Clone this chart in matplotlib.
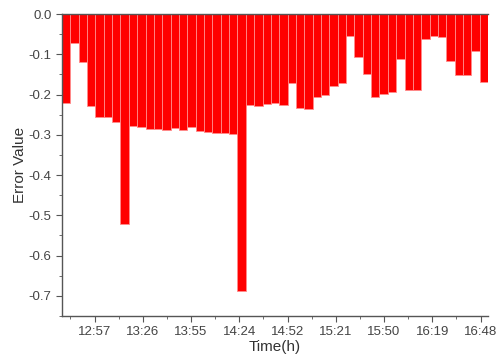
import matplotlib
matplotlib.use('Agg')
import matplotlib.pyplot as plt

plt.rcParams['font.family'] = ['Liberation Sans', 'DejaVu Sans']

# minutes after 12:00, one bar every 5 min (12:40 .. 16:50)
minutes = [40 + 5 * i for i in range(51)]
errors = [-0.222, -0.071, -0.120, -0.228, -0.256, -0.256, -0.268, -0.522, -0.279, -0.281,
          -0.285, -0.286, -0.287, -0.284, -0.287, -0.281, -0.291, -0.292, -0.296, -0.296,
          -0.297, -0.687, -0.227, -0.229, -0.223, -0.221, -0.225, -0.171, -0.233, -0.237,
          -0.207, -0.200, -0.178, -0.171, -0.055, -0.107, -0.148, -0.205, -0.199, -0.194,
          -0.112, -0.189, -0.189, -0.063, -0.054, -0.058, -0.117, -0.151, -0.151, -0.091,
          -0.170]

tick_labels = ['12:57', '13:26', '13:55', '14:24', '14:52', '15:21', '15:50', '16:19', '16:48']
tick_pos = [57 + i * 28.875 for i in range(len(tick_labels))]
y_ticks = [0.0, -0.1, -0.2, -0.3, -0.4, -0.5, -0.6, -0.7]
y_labels = ['0.0', '-0.1', '-0.2', '-0.3', '-0.4', '-0.5', '-0.6', '-0.7']

fig = plt.figure(figsize=(4.96, 3.64), dpi=100)
ax = fig.add_axes([0.125, 0.132, 0.859, 0.8295])

ax.bar(minutes, errors, width=5, color='#ff0000', edgecolor='#ff8c8c', linewidth=0.6)

ax.set_xlim(37.5, 292.5)
ax.set_ylim(-0.75, 0)
ax.set_xticks(tick_pos)
ax.set_xticklabels(tick_labels)
ax.set_xticks([p - 14.4375 for p in tick_pos], minor=True)
ax.set_yticks(y_ticks)
ax.set_yticklabels(y_labels)
ax.set_yticks([-0.05 - 0.1 * i for i in range(8)], minor=True)

grey = '#555555'
for s in ['left', 'bottom', 'top']:
    ax.spines[s].set_color(grey)
    ax.spines[s].set_linewidth(1.0)
ax.spines['right'].set_visible(False)

ax.tick_params(axis='both', which='major', length=4, color=grey, labelsize=9.5, labelcolor='#444444')
ax.tick_params(axis='both', which='minor', length=2, color=grey)

ax.set_xlabel('Time(h)', fontsize=11, color='#333333', labelpad=1)
ax.set_ylabel('Error Value', fontsize=11, color='#333333', labelpad=1)

fig.savefig('out.png', dpi=100)
